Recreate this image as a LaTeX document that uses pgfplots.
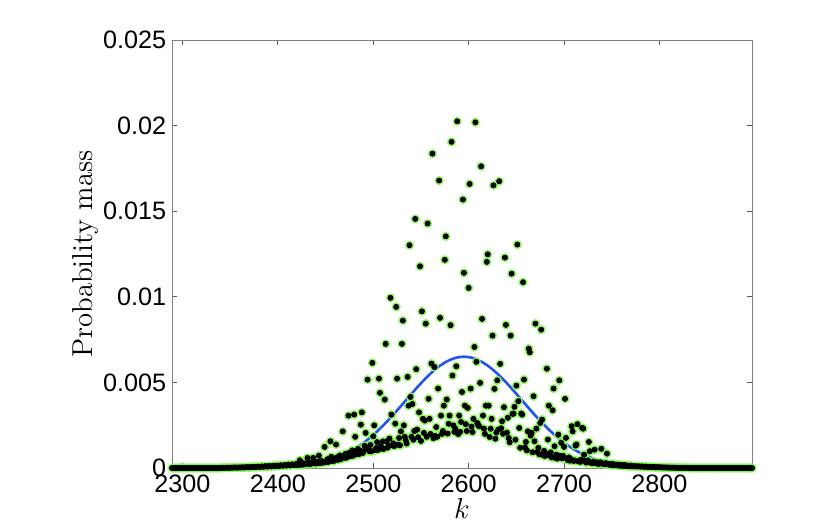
\documentclass[border=0pt]{standalone}
\usepackage{pgfplots}
\pgfplotsset{compat=1.18}
\usepackage{pgfplotstable}
\usepackage{fontspec}
\newfontfamily\arialfont{Liberation Sans}
\definecolor{mgreen}{rgb}{0.5,1,0.3}
\definecolor{mblue}{rgb}{0.13,0.33,0.93}

% probability mass, one value per k (tails thinned)
\pgfplotstableread[row sep=\\]{
k y \\
2289 0 \\ 2291 0 \\ 2293 0 \\ 2295 0 \\ 2297 0 \\ 2299 0 \\ 2301 0 \\ 2303 0 \\
2305 0 \\ 2307 0 \\ 2309 0 \\ 2311 0 \\ 2313 0 \\ 2315 0 \\ 2317 0 \\ 2319 0 \\
2321 0 \\ 2323 0 \\ 2325 0 \\ 2327 0 \\ 2329 0 \\ 2331 0 \\ 2333 0 \\ 2335 0 \\
2337 0 \\ 2339 0 \\
2341 0.00001 \\ 2343 0.00001 \\ 2345 0.00001 \\ 2347 0.00002 \\ 2349 0.00001 \\ 2351 0.00002 \\
2353 0.00002 \\ 2355 0.00003 \\ 2357 0.00002 \\ 2359 0.00003 \\ 2361 0.00003 \\ 2363 0.00004 \\
2365 0.00003 \\ 2367 0.00005 \\ 2369 0.00004 \\ 2371 0.00005 \\ 2373 0.00005 \\ 2375 0.00007 \\
2377 0.00005 \\ 2379 0.00008 \\ 2381 0.00006 \\ 2383 0.00009 \\ 2385 0.00007 \\ 2387 0.00011 \\
2389 0.00008 \\ 2391 0.00012 \\ 2393 0.00009 \\ 2395 0.00013 \\ 2397 0.00010 \\ 2399 0.00014 \\
2401 0.00011 \\ 2403 0.00016 \\ 2405 0.00013 \\ 2407 0.00017 \\ 2409 0.00014 \\ 2411 0.00020 \\
2413 0.00015 \\ 2415 0.00021 \\ 2417 0.00017 \\ 2419 0.00023 \\
2420 0.00017 \\ 2421 0.00021 \\ 2422 0.00019 \\ 2423 0.00045 \\ 2424 0.00019 \\ 2425 0.00022 \\
2426 0.00029 \\ 2427 0.00020 \\ 2428 0.00026 \\ 2429 0.00023 \\ 2430 0.00025 \\ 2431 0.00059 \\
2432 0.00031 \\ 2433 0.00023 \\ 2434 0.00028 \\ 2435 0.00025 \\ 2436 0.00033 \\ 2437 0.00059 \\
2438 0.00028 \\ 2439 0.00037 \\ 2440 0.00026 \\ 2441 0.00034 \\ 2442 0.00030 \\ 2443 0.00072 \\
2444 0.00030 \\ 2445 0.00041 \\ 2446 0.00030 \\ 2447 0.00038 \\ 2448 0.00033 \\ 2449 0.00123 \\
2450 0.00034 \\ 2451 0.00038 \\ 2452 0.00051 \\ 2453 0.00036 \\ 2454 0.00047 \\ 2455 0.00156 \\
2456 0.00065 \\ 2457 0.00041 \\ 2458 0.00057 \\ 2459 0.00042 \\ 2460 0.00052 \\ 2461 0.00137 \\
2462 0.00062 \\ 2463 0.00048 \\ 2464 0.00055 \\ 2465 0.00073 \\ 2466 0.00052 \\ 2467 0.00068 \\
2468 0.00214 \\ 2469 0.00066 \\ 2470 0.00060 \\ 2471 0.00083 \\ 2472 0.00061 \\ 2473 0.00077 \\
2474 0.00306 \\ 2475 0.00089 \\ 2476 0.00069 \\ 2477 0.00078 \\ 2478 0.00103 \\ 2479 0.00072 \\
2480 0.00312 \\ 2481 0.00182 \\ 2482 0.00090 \\ 2483 0.00081 \\ 2484 0.00111 \\ 2485 0.00081 \\
2486 0.00101 \\ 2487 0.00253 \\ 2488 0.00325 \\ 2489 0.00088 \\ 2490 0.00099 \\ 2491 0.00129 \\
2492 0.00205 \\ 2493 0.00117 \\ 2494 0.00516 \\ 2495 0.00110 \\ 2496 0.00098 \\ 2497 0.00135 \\
2498 0.00098 \\ 2499 0.00614 \\ 2500 0.00185 \\ 2501 0.00249 \\ 2502 0.00104 \\ 2503 0.00116 \\
2504 0.00151 \\ 2505 0.00106 \\ 2506 0.00522 \\ 2507 0.00439 \\ 2508 0.00127 \\ 2509 0.00113 \\
2510 0.00155 \\ 2511 0.00112 \\ 2512 0.00400 \\ 2513 0.00725 \\ 2514 0.00156 \\ 2515 0.00119 \\
2516 0.00132 \\ 2517 0.00172 \\ 2518 0.00994 \\ 2519 0.00312 \\ 2520 0.00132 \\ 2521 0.00144 \\
2522 0.00128 \\ 2523 0.00259 \\ 2524 0.00941 \\ 2525 0.00522 \\ 2526 0.00136 \\ 2527 0.00175 \\
2528 0.00133 \\ 2529 0.00214 \\ 2530 0.00725 \\ 2531 0.00861 \\ 2532 0.00249 \\ 2533 0.00182 \\
2534 0.00161 \\ 2535 0.00143 \\ 2536 0.00532 \\ 2537 0.00364 \\ 2538 0.01301 \\ 2539 0.00415 \\
2540 0.00182 \\ 2541 0.00374 \\ 2542 0.00165 \\ 2543 0.00216 \\ 2544 0.01455 \\ 2545 0.00577 \\
2546 0.00224 \\ 2547 0.00180 \\ 2548 0.00325 \\ 2549 0.01178 \\ 2550 0.00158 \\ 2551 0.00915 \\
2552 0.00287 \\ 2553 0.00205 \\ 2554 0.00277 \\ 2555 0.00843 \\ 2556 0.00182 \\ 2557 0.01428 \\
2558 0.00404 \\ 2559 0.00287 \\ 2560 0.00199 \\ 2561 0.00610 \\ 2562 0.01836 \\ 2563 0.00174 \\
2564 0.00590 \\ 2565 0.00187 \\ 2566 0.00239 \\ 2567 0.00182 \\ 2568 0.00464 \\ 2569 0.01679 \\
2570 0.00877 \\ 2571 0.00306 \\ 2572 0.00199 \\ 2573 0.00216 \\ 2574 0.00364 \\ 2575 0.01216 \\
2576 0.01353 \\ 2577 0.00400 \\ 2578 0.00201 \\ 2579 0.00258 \\ 2580 0.00306 \\ 2581 0.00834 \\
2582 0.01905 \\ 2583 0.00540 \\ 2584 0.00249 \\ 2585 0.00211 \\ 2586 0.00230 \\ 2587 0.00594 \\
2588 0.02025 \\ 2589 0.00198 \\ 2590 0.00306 \\ 2591 0.00211 \\ 2592 0.00269 \\ 2593 0.00444 \\
2594 0.01568 \\ 2595 0.01140 \\ 2596 0.00364 \\ 2597 0.00256 \\ 2598 0.00216 \\ 2599 0.00351 \\
2600 0.01052 \\ 2601 0.01659 \\ 2602 0.00464 \\ 2603 0.00242 \\ 2604 0.00210 \\ 2605 0.00287 \\
2606 0.00707 \\ 2607 0.02019 \\ 2608 0.00620 \\ 2609 0.00263 \\ 2610 0.00250 \\ 2611 0.00244 \\
2612 0.00497 \\ 2613 0.01762 \\ 2614 0.00871 \\ 2615 0.00306 \\ 2616 0.00230 \\ 2617 0.00199 \\
2618 0.00364 \\ 2619 0.01204 \\ 2620 0.01248 \\ 2621 0.00364 \\ 2622 0.00181 \\ 2623 0.00229 \\
2624 0.00287 \\ 2625 0.00773 \\ 2626 0.01651 \\ 2627 0.00462 \\ 2628 0.00171 \\ 2629 0.00207 \\
2630 0.00512 \\ 2631 0.00224 \\ 2632 0.01675 \\ 2633 0.00608 \\ 2634 0.00232 \\ 2635 0.00273 \\
2636 0.00200 \\ 2637 0.00355 \\ 2638 0.01229 \\ 2639 0.00836 \\ 2640 0.00207 \\ 2641 0.00293 \\
2642 0.00175 \\ 2643 0.00150 \\ 2644 0.00773 \\ 2645 0.01135 \\ 2646 0.00316 \\ 2647 0.00318 \\
2648 0.00357 \\ 2649 0.00165 \\ 2650 0.00481 \\ 2651 0.01305 \\ 2652 0.00390 \\ 2653 0.00234 \\
2654 0.00118 \\ 2655 0.00318 \\ 2656 0.00312 \\ 2657 0.01085 \\ 2658 0.00516 \\ 2659 0.00120 \\
2660 0.00152 \\ 2661 0.00103 \\ 2662 0.00214 \\ 2663 0.00697 \\ 2664 0.00676 \\ 2665 0.00189 \\
2666 0.00205 \\ 2667 0.00092 \\ 2668 0.00419 \\ 2669 0.00156 \\ 2670 0.00843 \\ 2671 0.00230 \\
2672 0.00093 \\ 2673 0.00118 \\ 2674 0.00080 \\ 2675 0.00263 \\ 2676 0.00808 \\ 2677 0.00283 \\
2678 0.00075 \\ 2679 0.00100 \\ 2680 0.00070 \\ 2681 0.00084 \\ 2682 0.00580 \\ 2683 0.00166 \\
2684 0.00364 \\ 2685 0.00072 \\ 2686 0.00091 \\ 2687 0.00062 \\ 2688 0.00337 \\ 2689 0.00464 \\
2690 0.00127 \\ 2691 0.00059 \\ 2692 0.00078 \\ 2693 0.00055 \\ 2694 0.00195 \\ 2695 0.00512 \\
2696 0.00070 \\ 2697 0.00147 \\ 2698 0.00056 \\ 2699 0.00071 \\ 2700 0.00123 \\ 2701 0.00404 \\
2702 0.00176 \\ 2703 0.00053 \\ 2704 0.00046 \\ 2705 0.00062 \\ 2706 0.00043 \\ 2707 0.00052 \\
2708 0.00244 \\ 2709 0.00214 \\ 2710 0.00041 \\ 2711 0.00044 \\ 2712 0.00131 \\ 2713 0.00137 \\
2714 0.00256 \\ 2715 0.00039 \\ 2716 0.00042 \\ 2717 0.00036 \\ 2718 0.00048 \\ 2719 0.00234 \\
2720 0.00230 \\ 2721 0.00078 \\ 2722 0.00043 \\ 2723 0.00032 \\ 2724 0.00034 \\ 2725 0.00044 \\
2726 0.00152 \\ 2727 0.00098 \\ 2728 0.00030 \\ 2729 0.00032 \\ 2730 0.00028 \\ 2731 0.00037 \\
2732 0.00107 \\ 2733 0.00031 \\ 2734 0.00027 \\ 2735 0.00033 \\ 2736 0.00024 \\ 2737 0.00026 \\
2738 0.00033 \\ 2739 0.00112 \\ 2740 0.00028 \\ 2741 0.00023 \\ 2742 0.00025 \\ 2743 0.00021 \\
2744 0.00028 \\ 2745 0.00084 \\ 2746 0.00023 \\ 2747 0.00020 \\ 2748 0.00024 \\ 2749 0.00018 \\
2750 0.00019 \\ 2751 0.00024 \\ 2752 0.00016 \\ 2753 0.00020 \\ 2754 0.00017 \\ 2755 0.00018 \\
2756 0.00015 \\ 2757 0.00020 \\ 2758 0.00014 \\ 2759 0.00016 \\ 2760 0.00014 \\ 2761 0.00017 \\
2762 0.00012 \\ 2763 0.00014 \\ 2764 0.00017 \\ 2765 0.00012 \\ 2766 0.00014 \\ 2767 0.00012 \\
2768 0.00012 \\ 2769 0.00010 \\ 2770 0.00014 \\
2772 0.00010 \\ 2774 0.00011 \\ 2776 0.00009 \\ 2778 0.00010 \\ 2780 0.00008 \\ 2782 0.00009 \\
2784 0.00007 \\ 2786 0.00008 \\ 2788 0.00006 \\ 2790 0.00007 \\ 2792 0.00005 \\ 2794 0.00006 \\
2796 0.00004 \\ 2798 0.00005 \\ 2800 0.00004 \\ 2802 0.00004 \\ 2804 0.00003 \\ 2806 0.00003 \\
2808 0.00003 \\ 2810 0.00002 \\ 2812 0.00002 \\ 2814 0.00002 \\ 2816 0.00002 \\ 2818 0.00001 \\
2820 0.00001 \\ 2822 0.00001 \\ 2824 0.00001 \\ 2826 0.00001 \\ 2828 0.00001 \\ 2830 0.00001 \\
2832 0 \\ 2834 0 \\ 2836 0 \\ 2838 0 \\ 2840 0 \\ 2842 0 \\ 2844 0 \\ 2846 0 \\
2848 0 \\ 2850 0 \\ 2852 0 \\ 2854 0 \\ 2856 0 \\ 2858 0 \\ 2860 0 \\ 2862 0 \\
2864 0 \\ 2866 0 \\ 2868 0 \\ 2870 0 \\ 2872 0 \\ 2874 0 \\ 2876 0 \\ 2878 0 \\
2880 0 \\ 2882 0 \\ 2884 0 \\ 2886 0 \\ 2888 0 \\ 2890 0 \\ 2892 0 \\ 2894 0 \\
2896 0 \\ 2897 0 \\
}\pmf

% smooth reference curve
\pgfplotstableread[row sep=\\]{
k y \\
2289 0 \\ 2320 0 \\ 2345 0.0000015 \\ 2375 0.0000097 \\ 2395 0.0000301 \\ 2405 0.0000508 \\
2415 0.0000836 \\ 2425 0.000134 \\ 2435 0.000208 \\ 2445 0.000316 \\ 2450 0.000385 \\
2455 0.000467 \\ 2460 0.000562 \\ 2465 0.000671 \\ 2470 0.000796 \\ 2475 0.000939 \\
2480 0.001099 \\ 2485 0.001279 \\ 2490 0.001477 \\ 2495 0.001696 \\ 2500 0.001933 \\
2505 0.002189 \\ 2510 0.002462 \\ 2515 0.002751 \\ 2520 0.003053 \\ 2525 0.003365 \\
2530 0.003684 \\ 2535 0.004007 \\ 2540 0.004329 \\ 2545 0.004645 \\ 2550 0.004952 \\
2555 0.005243 \\ 2560 0.005514 \\ 2565 0.005760 \\ 2570 0.005976 \\ 2575 0.006160 \\
2580 0.006306 \\ 2585 0.006413 \\ 2590 0.006478 \\ 2595 0.006500 \\ 2600 0.006478 \\
2605 0.006413 \\ 2610 0.006306 \\ 2615 0.006160 \\ 2620 0.005976 \\ 2625 0.005760 \\
2630 0.005514 \\ 2635 0.005243 \\ 2640 0.004952 \\ 2645 0.004645 \\ 2650 0.004329 \\
2655 0.004007 \\ 2660 0.003684 \\ 2665 0.003365 \\ 2670 0.003053 \\ 2675 0.002751 \\
2680 0.002462 \\ 2685 0.002189 \\ 2690 0.001933 \\ 2695 0.001696 \\ 2700 0.001477 \\
2705 0.001279 \\ 2710 0.001099 \\ 2715 0.000939 \\ 2720 0.000796 \\ 2725 0.000671 \\
2730 0.000562 \\ 2735 0.000467 \\ 2740 0.000385 \\ 2745 0.000316 \\ 2755 0.000208 \\
2765 0.000134 \\ 2775 0.0000836 \\ 2785 0.0000508 \\ 2795 0.0000301 \\ 2815 0.0000097 \\
2845 0.0000015 \\ 2870 0 \\ 2897 0 \\
}\gauss

\begin{document}
\begin{tikzpicture}
\path[use as bounding box] (0,0) rectangle (415pt,264pt);
\begin{axis}[
	at={(86pt,30pt)}, anchor=south west,
	width=290pt, height=214pt, scale only axis,
	xmin=2289, xmax=2897, ymin=0, ymax=0.025,
	xtick={2300,2400,2500,2600,2700,2800},
	xticklabels={2300,2400,2500,2600,2700,2800},
	ytick={0,0.005,0.01,0.015,0.02,0.025},
	yticklabels={0,0.005,0.01,0.015,0.02,0.025},
	scaled y ticks=false,
	tick align=inside,
	major tick length=2.5pt,
	axis line style={black!50},
	every tick/.style={black!65},
	/pgf/number format/assume math mode=true,
	ticklabel style={font=\arialfont\fontsize{12.6}{14}\selectfont, text=black},
	xticklabel style={inner sep=0pt, yshift=-3.5pt},
	yticklabel style={inner sep=0pt, xshift=-2.7pt},
	xlabel={$k$}, ylabel={Probability mass},
	label style={font=\fontsize{14.4}{17}\selectfont},
	xlabel style={inner sep=2.5pt},
	ylabel style={inner sep=2.2pt},
	clip=false,
]
\addplot[mblue, line width=1.3pt] table {\gauss};
\addplot[only marks, mark=o, mark size=2.0pt, mgreen, line width=0.55pt] table {\pmf};
\addplot[only marks, mark=*, mark size=1.3pt, black] table {\pmf};
\end{axis}
\end{tikzpicture}
\end{document}
